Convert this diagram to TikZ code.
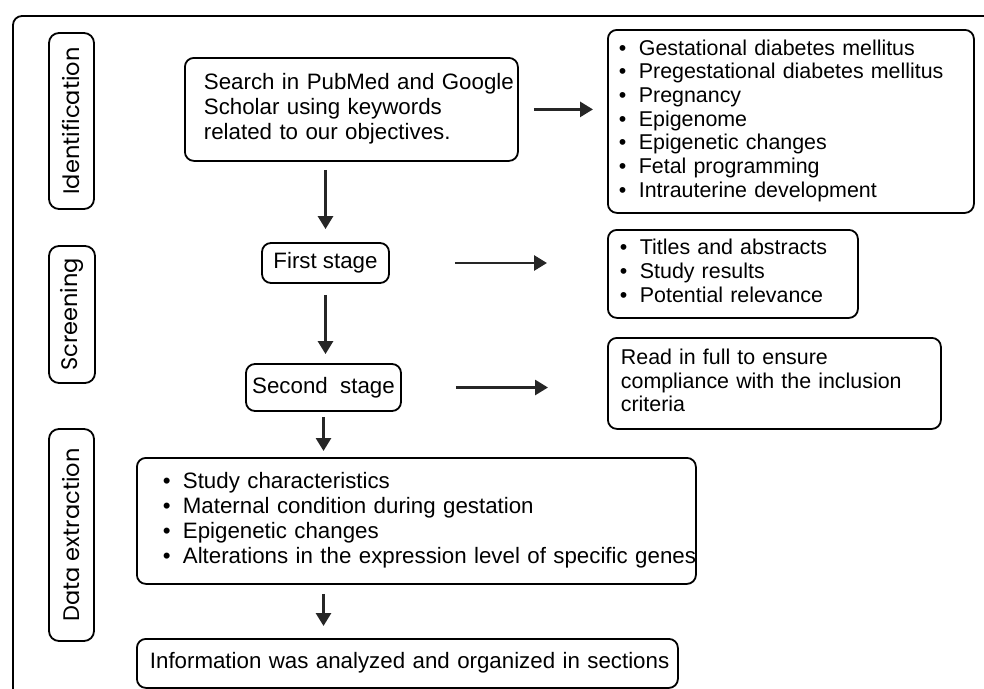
\documentclass[tikz,border=0pt]{standalone}
\usepackage{fontspec}
\setmainfont{Liberation Sans}
\newfontfamily\labelfont{Poppins}
\usetikzlibrary{arrows.meta}

\newcommand{\bul}{\makebox[20pt][l]{\textbullet}}
\newcommand{\lines}[1]{\begin{tabular}{@{}l@{}}#1\end{tabular}}

\tikzset{
  box/.style={draw, line width=1.8pt, rounded corners=9pt, anchor=north west, align=left, inner ysep=0pt},
  stagebox/.style={draw, line width=1.8pt, rounded corners=9pt, inner sep=0pt, lfont},
  sidebox/.style={draw, line width=1.8pt, rounded corners=10pt, rotate=90, inner sep=0pt,
    font=\labelfont\fontsize{22.5}{26}\selectfont},
  lfont/.style={font=\fontsize{22.3}{25}\selectfont},
  rfont/.style={font=\fontsize{21.4}{23.7}\selectfont},
  arr/.style={-{Triangle[length=13pt,width=15pt]}, line width=2.8pt, black!85},
}

\begin{document}
\begin{tikzpicture}[x=1pt, y=-1pt]
    \useasboundingbox (0,0) rectangle (984,688);

    % Outer frame
    \draw[line width=1.8pt, rounded corners=9pt] (13,720) -- (13,16) -- (1010,16);

    % Define nodes
    \node[sidebox, minimum width=176pt, minimum height=45pt] (ident) at (71.5,121) {Identification};
    \node[sidebox, minimum width=137pt, minimum height=46pt] (screen) at (72,314.5) {Screening};
    \node[sidebox, minimum width=212pt, minimum height=45pt] (extract) at (71.5,535) {Data extraction};

    \node[box, lfont, inner xsep=19pt, text width=295pt, minimum height=103pt] (search) at (184,57)
        {\lines{Search in PubMed and Google\\Scholar using keywords\\related to our objectives.}};
    \node[box, rfont, inner xsep=11pt, text width=344pt, minimum height=183pt] (kw) at (607,29)
        {\lines{\bul Gestational diabetes mellitus\\
                \bul Pregestational diabetes mellitus\\
                \bul Pregnancy\\
                \bul Epigenome\\
                \bul Epigenetic changes\\
                \bul Fetal programming\\
                \bul Intrauterine development}};

    \node[stagebox, minimum width=127pt, minimum height=40pt] (first) at (325.5,263) {First stage};
    \node[box, rfont, inner xsep=12pt, text width=226pt, minimum height=88pt] (titles) at (607,229)
        {\lines{\bul Titles and abstracts\\
                \bul Study results\\
                \bul Potential relevance}};

    \node[stagebox, minimum width=155pt, minimum height=47pt] (second) at (323.5,387.5) {Second~ stage};
    \node[box, rfont, inner xsep=13pt, text width=307pt, minimum height=91pt] (read) at (607,337)
        {\lines{Read in full to ensure\\compliance with the inclusion\\criteria}};

    \node[box, lfont, inner xsep=26pt, text width=507pt, minimum height=126pt] (data) at (136,457)
        {\lines{\bul Study characteristics\\
                \bul Maternal condition during gestation\\
                \bul Epigenetic changes\\
                \bul Alterations in the expression level of specific genes}};
    \node[box, lfont, inner xsep=13pt, text width=515pt, minimum height=49pt] (info) at (136,638)
        {\lines{Information was analyzed and organized in sections}};

    % Draw edges
    \draw[arr, shorten <=15pt, shorten >=14pt] (search.east) -- (search.east -| kw.west);
    \draw[arr, shorten <=8pt, shorten >=13pt] (search.south -| first.north) -- (first.north);

    \draw[arr, shorten <=65pt, shorten >=60pt] (first.east) -- (first.east -| titles.west);
    \draw[arr, shorten <=11pt, shorten >=9pt] (first.south) -- (first.south |- second.north);

    \draw[arr, shorten <=54pt, shorten >=59pt] (second.east) -- (second.east -| read.west);
    \draw[arr, shorten <=5pt, shorten >=6pt] (second.south) -- (second.south |- data.north);

    \draw[arr, shorten <=9pt, shorten >=12pt] (second.south |- data.south) -- (second.south |- info.north);
\end{tikzpicture}
\end{document}
